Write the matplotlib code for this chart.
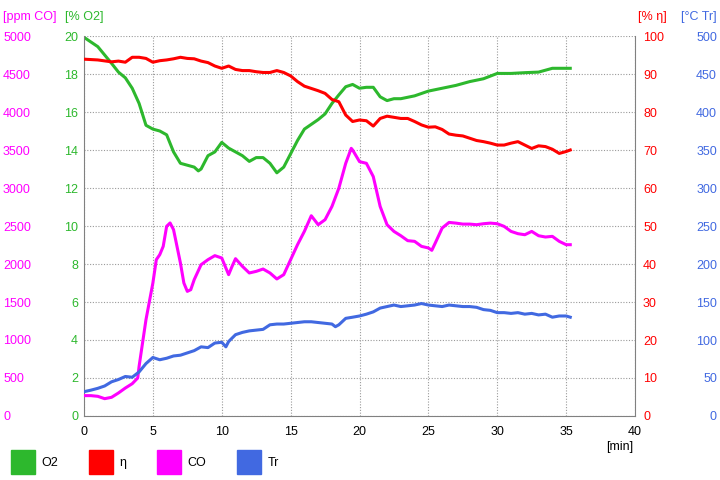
import matplotlib
matplotlib.use("Agg")
import matplotlib.pyplot as plt
from matplotlib.patches import Patch

plt.rcParams['font.family'] = ['Liberation Sans', 'DejaVu Sans']
plt.rcParams['font.size'] = 9

# O2 [%] and efficiency [%]
t_o2 = [0, 1, 2, 2.5, 3, 3.5, 4, 4.5, 5, 5.5, 6, 6.5, 7, 7.5, 8, 8.3, 8.5, 9, 9.5, 10,
        10.5, 11, 11.5, 12, 12.5, 13, 13.5, 14, 14.5, 15, 15.5, 16, 16.5, 17, 17.5, 18,
        18.5, 19, 19.5, 20, 20.5, 21, 21.5, 22, 22.5, 23, 24, 25, 26, 27, 28, 29, 30,
        31, 32, 33, 34, 35, 35.3]
o2 = [19.93, 19.44, 18.56, 18.1, 17.8, 17.25, 16.45, 15.3, 15.1, 15.0, 14.8, 13.9, 13.3,
      13.2, 13.1, 12.9, 13.0, 13.7, 13.9, 14.4, 14.1, 13.9, 13.7, 13.4, 13.6, 13.6, 13.3,
      12.8, 13.1, 13.8, 14.5, 15.1, 15.35, 15.6, 15.9, 16.45, 16.9, 17.33, 17.45, 17.25,
      17.3, 17.3, 16.8, 16.6, 16.7, 16.7, 16.85, 17.1, 17.25, 17.4, 17.6, 17.75, 18.03,
      18.03, 18.07, 18.1, 18.3, 18.3, 18.3]

t_eta = [0, 1, 2, 2.5, 3, 3.5, 4, 4.5, 5, 5.5, 6, 6.5, 7, 7.5, 8, 8.5, 9, 9.5, 10, 10.5,
         11, 11.5, 12, 12.5, 13, 13.5, 14, 14.5, 15, 15.5, 16, 16.5, 17, 17.5, 18, 18.5,
         19, 19.5, 20, 20.5, 21, 21.5, 22, 22.5, 23, 23.5, 24, 24.5, 25, 25.5, 26, 26.5,
         27, 27.5, 28, 28.5, 29, 29.5, 30, 30.5, 31, 31.5, 32, 32.5, 33, 33.5, 34, 34.5,
         35, 35.3]
eta = [93.9, 93.7, 93.2, 93.4, 93.1, 94.4, 94.4, 94.1, 93.1, 93.5, 93.7, 94.0, 94.4, 94.1,
       94.0, 93.4, 93.0, 92.1, 91.5, 92.1, 91.2, 90.9, 90.9, 90.6, 90.4, 90.4, 90.9, 90.4,
       89.5, 88.0, 86.8, 86.2, 85.6, 84.9, 83.3, 82.7, 79.2, 77.5, 77.9, 77.7, 76.3, 78.3,
       78.9, 78.6, 78.3, 78.3, 77.5, 76.6, 76.0, 76.1, 75.4, 74.2, 73.9, 73.7, 73.1, 72.5,
       72.2, 71.8, 71.3, 71.3, 71.8, 72.2, 71.3, 70.4, 71.1, 70.9, 70.2, 69.1, 69.6, 70.0]

# CO [ppm]
t_co = [0, 0.5, 1, 1.5, 2, 2.5, 3, 3.5, 3.9, 4, 4.5, 5, 5.25, 5.5, 5.75, 6, 6.25, 6.5, 7,
        7.25, 7.5, 7.75, 8, 8.5, 9, 9.5, 10, 10.25, 10.5, 10.75, 11, 11.5, 12, 12.5, 13,
        13.5, 14, 14.5, 15, 15.5, 16, 16.5, 17, 17.5, 18, 18.5, 19, 19.4, 19.5, 20, 20.5,
        21, 21.5, 22, 22.5, 23, 23.5, 24, 24.5, 25, 25.25, 25.5, 26, 26.5, 27, 27.5, 28,
        28.5, 29, 29.5, 30, 30.5, 31, 31.5, 32, 32.5, 33, 33.5, 34, 34.5, 35, 35.3]
co = [268, 268, 259, 228, 246, 303, 368, 425, 500, 654, 1268, 1750, 2057, 2123, 2232, 2496,
      2540, 2452, 2013, 1750, 1640, 1662, 1794, 1991, 2057, 2110, 2079, 1969, 1860, 1969,
      2070, 1969, 1882, 1903, 1934, 1882, 1803, 1860, 2057, 2254, 2430, 2635, 2517, 2583,
      2757, 2997, 3325, 3522, 3500, 3347, 3325, 3150, 2757, 2517, 2429, 2372, 2307, 2298,
      2232, 2211, 2180, 2276, 2473, 2547, 2538, 2525, 2525, 2517, 2530, 2538, 2530, 2495,
      2429, 2399, 2385, 2429, 2372, 2355, 2364, 2298, 2254, 2254]

# Tr [°C]
t_tr = [0, 0.5, 1, 1.5, 2, 2.5, 3, 3.5, 4, 4.5, 5, 5.5, 6, 6.5, 7, 7.5, 8, 8.5, 9, 9.5, 10,
        10.3, 10.5, 11, 11.5, 12, 12.5, 13, 13.5, 14, 14.5, 15, 15.5, 16, 16.5, 17, 17.5,
        18, 18.25, 18.5, 19, 19.5, 20, 20.5, 21, 21.5, 22, 22.5, 23, 23.5, 24, 24.5, 25,
        25.5, 26, 26.5, 27, 27.5, 28, 28.5, 29, 29.5, 30, 30.5, 31, 31.5, 32, 32.5, 33,
        33.5, 34, 34.5, 35, 35.3]
tr = [32, 34, 36.4, 39.5, 45, 48, 52, 51, 58, 69, 77, 74, 76, 79, 80, 83, 86, 91, 90, 96, 97,
      91, 98, 107, 110, 112, 113, 114, 120, 121, 121, 122, 123, 124, 124, 123, 122, 121,
      117.5, 120, 128.5, 130, 131.6, 134, 137, 142, 144, 146, 144, 145, 146, 148, 146, 145,
      144, 146, 145, 144, 144, 143, 140, 139, 136, 136, 135, 136, 134, 135, 133, 134, 130,
      131.6, 131.6, 130]

x_ticks = [0, 5, 10, 15, 20, 25, 30, 35, 40]
o2_ticks = [0, 2, 4, 6, 8, 10, 12, 14, 16, 18, 20]
co_ticks = [0, 500, 1000, 1500, 2000, 2500, 3000, 3500, 4000, 4500, 5000]
eta_ticks = [0, 10, 20, 30, 40, 50, 60, 70, 80, 90, 100]
tr_ticks = [0, 50, 100, 150, 200, 250, 300, 350, 400, 450, 500]

c_o2 = '#2db82d'
c_eta = '#ff0000'
c_co = '#ff00ff'
c_tr = '#4169e1'
frame = '#808080'

fig = plt.figure(figsize=(7.2, 4.8), dpi=100)
ax = fig.add_axes([84 / 720, 1 - 416 / 480, 551 / 720, 380 / 480])
ax_co = ax.twinx()
ax_eta = ax.twinx()
ax_tr = ax.twinx()

ax.set_xlim(0, 40)
ax.set_xticks(x_ticks)
ax.set_ylim(0, 20)
ax.set_yticks(o2_ticks, [str(v) for v in o2_ticks], color=c_o2)
ax.tick_params(axis='y', length=0, pad=4.3)
ax.tick_params(axis='x', length=0, pad=7)
ax.grid(True, color='#9a9a9a', linestyle=(0, (1, 1.5)), linewidth=0.8)
ax.spines['top'].set_visible(False)
for s in ['left', 'bottom', 'right']:
    ax.spines[s].set_color(frame)

ax_co.set_ylim(0, 5000)
ax_co.yaxis.set_ticks_position('left')
ax_co.set_yticks(co_ticks, [str(v) for v in co_ticks], color=c_co, ha='left')
ax_co.tick_params(axis='y', length=0, pad=58.3)

ax_eta.set_ylim(0, 100)
ax_eta.set_yticks(eta_ticks, [str(v) for v in eta_ticks], color=c_eta, ha='left')
ax_eta.tick_params(axis='y', length=0, pad=5.8)

ax_tr.set_ylim(0, 500)
ax_tr.set_yticks(tr_ticks, [str(v) for v in tr_ticks], color=c_tr, ha='right')
ax_tr.tick_params(axis='y', length=0, pad=59)

for a in [ax_co, ax_eta, ax_tr]:
    for s in a.spines.values():
        s.set_visible(False)

lw = 2.2
ax_co.plot(t_co, co, color=c_co, lw=lw)
ax.plot(t_o2, o2, color=c_o2, lw=lw)
ax_eta.plot(t_eta, eta, color=c_eta, lw=lw)
ax_tr.plot(t_tr, tr, color=c_tr, lw=lw)

fig.text(3 / 720, 1 - 17 / 480, '[ppm CO]', color=c_co, va='center', ha='left')
fig.text(65 / 720, 1 - 17 / 480, '[% O2]', color=c_o2, va='center', ha='left')
fig.text(667 / 720, 1 - 17 / 480, '[% η]', color=c_eta, va='center', ha='right')
fig.text(717 / 720, 1 - 17 / 480, '[°C Tr]', color=c_tr, va='center', ha='right')
fig.text(620 / 720, 1 - 447 / 480, '[min]', va='center', ha='center')

handles = [Patch(color=c_o2, label='O2'), Patch(color=c_eta, label='η'),
           Patch(color=c_co, label='CO'), Patch(color=c_tr, label='Tr')]
fig.legend(handles=handles, loc='lower left', bbox_to_anchor=(0.001, -0.008), ncol=4,
           frameon=False, handlelength=1.95, handleheight=2.6, handletextpad=0.5,
           columnspacing=2.45, borderpad=0.3)

fig.savefig('out.png', dpi=100)
